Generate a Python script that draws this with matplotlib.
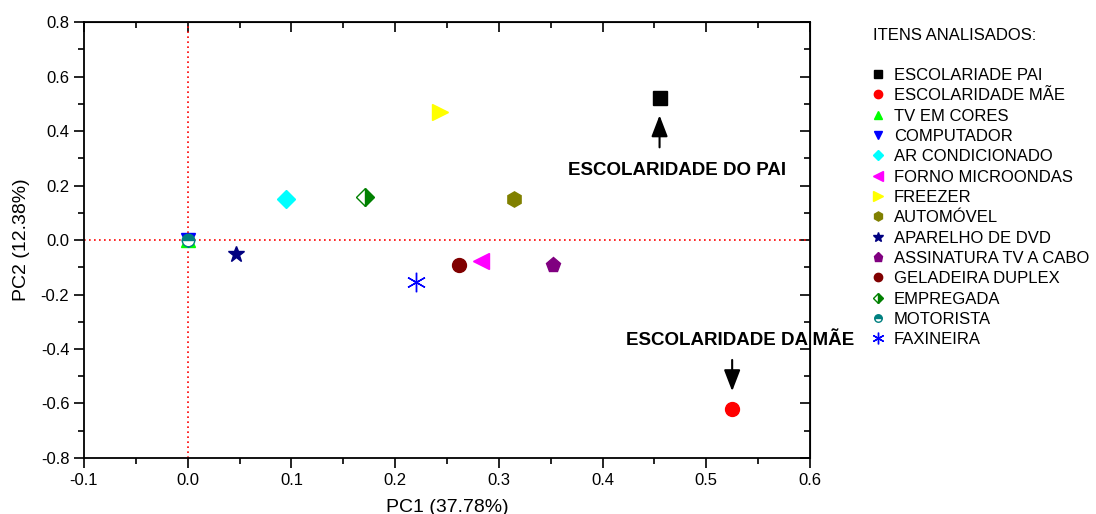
import matplotlib.pyplot as plt
from matplotlib.ticker import MultipleLocator

plt.rcParams['font.family'] = ['Liberation Sans', 'DejaVu Sans']

# PCA loadings
itens = ['ESCOLARIADE PAI', 'ESCOLARIDADE MÃE', 'TV EM CORES', 'COMPUTADOR',
         'AR CONDICIONADO', 'FORNO MICROONDAS', 'FREEZER', 'AUTOMÓVEL',
         'APARELHO DE DVD', 'ASSINATURA TV A CABO', 'GELADEIRA DUPLEX',
         'EMPREGADA', 'MOTORISTA', 'FAXINEIRA']
pc1 = [0.455, 0.525, 0.0, 0.0, 0.095, 0.283, 0.243, 0.315, 0.047, 0.352, 0.262, 0.171, 0.0, 0.220]
pc2 = [0.52, -0.62, 0.0, 0.0, 0.15, -0.077, 0.47, 0.15, -0.051, -0.092, -0.092, 0.158, 0.0, -0.155]

cores = ['black', 'red', '#00ff00', '#0000ff', '#00ffff', '#ff00ff', '#ffff00', '#808000',
         '#000080', '#800080', '#800000', '#008000', '#008080', '#0000ff']
marcadores = ['s', 'o', '^', 'v', 'D', '<', '>', 'h', '*', 'p', 'o', 'D', 'o', (6, 2, 0)]
tamanhos = [10, 10, 10, 10, 9, 11, 11, 11, 12, 11, 10, 9, 9, 14]
preench = ['full'] * 11 + ['right', 'top', 'full']

fig = plt.figure(figsize=(10.96, 5.14), dpi=100)
ax = fig.add_axes([0.0766, 0.109, 0.6624, 0.848])

handles = []
for i in range(len(itens)):
    h, = ax.plot(pc1[i], pc2[i], linestyle='none', marker=marcadores[i],
                 color=cores[i], markersize=tamanhos[i], fillstyle=preench[i],
                 markerfacecoloralt='white', markeredgewidth=1.0, label=itens[i], zorder=3)
    handles.append(h)

ax.axvline(0, color='red', linestyle=(0, (1, 2)), linewidth=1.2, zorder=1)
ax.axhline(0, color='red', linestyle=(0, (1, 2)), linewidth=1.2, zorder=1)

ax.set_xlim(-0.1, 0.6)
ax.set_ylim(-0.8, 0.8)
ax.xaxis.set_major_locator(MultipleLocator(0.1))
ax.xaxis.set_minor_locator(MultipleLocator(0.05))
ax.yaxis.set_major_locator(MultipleLocator(0.2))
ax.yaxis.set_minor_locator(MultipleLocator(0.1))
ax.xaxis.set_major_formatter(plt.FuncFormatter(lambda v, p: f'{v:.1f}'))
ax.yaxis.set_major_formatter(plt.FuncFormatter(lambda v, p: f'{v:.1f}'))
ax.tick_params(which='both', direction='out', labelsize=12, width=1.2)
ax.tick_params(which='major', length=7)
ax.tick_params(which='minor', length=4)
for s in ax.spines.values():
    s.set_linewidth(1.3)

ax2 = ax.secondary_xaxis('top')
ax2.xaxis.set_major_locator(MultipleLocator(0.1))
ax2.xaxis.set_minor_locator(MultipleLocator(0.05))
ax2.tick_params(which='both', direction='in', labeltop=False, width=1.2)
ax2.tick_params(which='major', length=7)
ax2.tick_params(which='minor', length=4)
ay2 = ax.secondary_yaxis('right')
ay2.yaxis.set_major_locator(MultipleLocator(0.2))
ay2.yaxis.set_minor_locator(MultipleLocator(0.1))
ay2.tick_params(which='both', direction='in', labelright=False, width=1.2)
ay2.tick_params(which='major', length=7)
ay2.tick_params(which='minor', length=4)

ax.set_xlabel('PC1 (37.78%)', fontsize=14, labelpad=8)
ax.set_ylabel('PC2 (12.38%)', fontsize=14, labelpad=8)

seta = dict(arrowstyle='-|>,head_width=0.25,head_length=0.65', color='black', lw=1.5, mutation_scale=20)
ax.annotate('', xy=(0.455, 0.468), xytext=(0.455, 0.33), arrowprops=seta)
ax.text(0.472, 0.255, 'ESCOLARIDADE DO PAI', fontsize=13.5, fontweight='bold', ha='center', va='center')
ax.annotate('', xy=(0.525, -0.565), xytext=(0.525, -0.43), arrowprops=seta)
ax.text(0.533, -0.37, 'ESCOLARIDADE DA MÃE', fontsize=13.5, fontweight='bold', ha='center', va='center')

leg = fig.legend(handles=handles, loc='upper left', bbox_to_anchor=(0.783, 0.975),
                 frameon=False, title='ITENS ANALISADOS:', fontsize=12, title_fontsize=12,
                 markerscale=0.6, handlelength=0.6, handletextpad=0.65, labelspacing=0.32,
                 alignment='left')
leg._legend_box.sep = 18

fig.savefig('out.png', dpi=100)
